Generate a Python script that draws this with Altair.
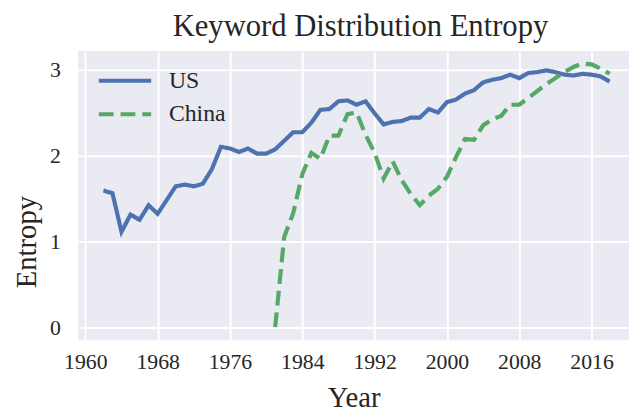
import altair as alt
import pandas as pd

us_years = list(range(1962, 2019))
us_values = [1.59, 1.56, 1.11, 1.31, 1.25, 1.42, 1.32, 1.48, 1.64, 1.66,
             1.64, 1.67, 1.84, 2.10, 2.08, 2.04, 2.08, 2.02, 2.02, 2.07,
             2.17, 2.27, 2.27, 2.38, 2.53, 2.54, 2.63, 2.64, 2.59, 2.63,
             2.49, 2.36, 2.39, 2.40, 2.44, 2.44, 2.54, 2.50, 2.62, 2.65,
             2.72, 2.76, 2.85, 2.88, 2.90, 2.94, 2.90, 2.96, 2.97, 2.99,
             2.97, 2.94, 2.93, 2.95, 2.94, 2.92, 2.86]

cn_years = list(range(1981, 2019))
cn_values = [0.00, 1.05, 1.33, 1.78, 2.03, 1.96, 2.23, 2.23, 2.48, 2.50,
             2.24, 2.03, 1.73, 1.93, 1.71, 1.55, 1.42, 1.53, 1.61, 1.75,
             1.98, 2.19, 2.18, 2.35, 2.42, 2.46, 2.59, 2.59, 2.67, 2.75,
             2.83, 2.90, 2.97, 3.03, 3.07, 3.06, 3.01, 2.95]

series = ["US", "China"]
colors = ["#4C72B0", "#55A868"]
dashes = [[1, 0], [15, 7]]

df = pd.concat([
    pd.DataFrame({"Year": us_years, "Entropy": us_values, "Country": "US"}),
    pd.DataFrame({"Year": cn_years, "Entropy": cn_values, "Country": "China"}),
])

FONT = "Liberation Serif"
TXT = "#262626"

legend = alt.Legend(title=None, orient="none", legendX=19, legendY=18,
                    symbolType="stroke", symbolSize=2809,
                    symbolStrokeWidth=4, labelFont=FONT,
                    labelFontSize=24, labelColor=TXT,
                    labelOffset=16, clipHeight=24, rowPadding=10)

chart = alt.Chart(df).mark_line(strokeWidth=4.2, clip=True).encode(
    x=alt.X("Year:Q",
            scale=alt.Scale(domain=[1959.2, 2020.14], nice=False, zero=False),
            axis=alt.Axis(values=[1960, 1968, 1976, 1984, 1992, 2000, 2008, 2016],
                          format="d", title="Year")),
    y=alt.Y("Entropy:Q",
            scale=alt.Scale(domain=[-0.154, 3.215], nice=False, zero=False),
            axis=alt.Axis(values=[0, 1, 2, 3], format="d", title="Entropy",
                          titleY=193)),
    color=alt.Color("Country:N", sort=series,
                    scale=alt.Scale(domain=series, range=colors),
                    legend=legend),
    strokeDash=alt.StrokeDash("Country:N", sort=series,
                              scale=alt.Scale(domain=series, range=dashes),
                              legend=legend),
).properties(
    width=558,
    height=293,
    title=alt.TitleParams("Keyword Distribution Entropy", font=FONT, fontSize=31,
                          fontWeight="normal", color=TXT, offset=8, anchor="middle",
                          dx=7),
    autosize=alt.AutoSizeParams(type="none"),
    padding={"left": 71, "top": 41, "right": 0, "bottom": 72},
).configure_view(
    fill="#EAEAF2", stroke=None
).configure_axis(
    grid=True, gridColor="white", gridWidth=2, domain=False, ticks=False,
    labelFont=FONT, labelFontSize=22, labelColor=TXT,
    titleFont=FONT, titleFontSize=29, titleFontWeight="normal", titleColor=TXT,
).configure_axisX(
    labelPadding=12, titlePadding=11
).configure_axisY(
    labelPadding=18, titlePadding=8
)

chart.save("out.html", embed_options={"renderer": "svg", "actions": False})
